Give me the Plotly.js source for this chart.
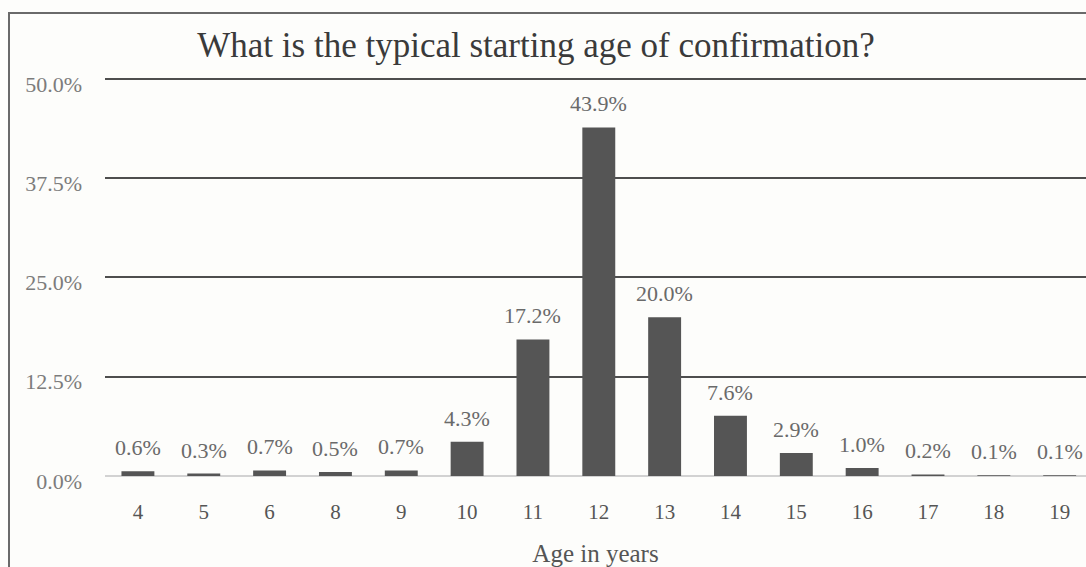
<!DOCTYPE html>
<html>
<head>
<meta charset="utf-8">
<script src="https://cdn.plot.ly/plotly-3.0.1.min.js"></script>
<style>
  html, body { margin: 0; padding: 0; background: #fdfdfb; overflow: hidden; }
  #wrap { position: relative; width: 1086px; height: 567px; }
  #chart { position: absolute; left: 0; top: 0; width: 1086px; height: 567px; }
  #frame { position: absolute; left: 8px; top: 12px; width: 1200px; height: 700px;
           border: 2px solid #6a6a6a; box-sizing: border-box; pointer-events: none; }
</style>
</head>
<body>
<div id="wrap">
  <div id="chart"></div>
  <div id="frame"></div>
</div>
<script>
const ages = ["4", "5", "6", "8", "9", "10", "11", "12", "13", "14", "15", "16", "17", "18", "19"];
const shares = [0.6, 0.3, 0.7, 0.5, 0.7, 4.3, 17.2, 43.9, 20.0, 7.6, 2.9, 1.0, 0.2, 0.1, 0.1];
const yTicks = [0, 12.5, 25, 37.5, 50];
const yTickLabels = ["0.0%", "12.5%", "25.0%", "37.5%", "50.0%"];
const chartTitle = "What is the typical starting age of confirmation?";
const xTitle = "Age in years";

const serif = "Liberation Serif, Times New Roman, serif";

const trace = {
  type: "bar",
  x: ages,
  y: shares,
  marker: { color: "#555555" },
  hoverinfo: "skip"
};

// category axis: annotation x is the category index
const annotations = ages.map((a, i) => ({
  x: i,
  y: shares[i],
  xref: "x",
  yref: "y",
  text: shares[i].toFixed(1) + "%",
  showarrow: false,
  yanchor: "bottom",
  yshift: 9,
  font: { family: serif, size: 22, color: "#6a6a6a" }
}));

const layout = {
  width: 1086,
  height: 567,
  margin: { l: 105, r: 0, t: 77, b: 91 },
  paper_bgcolor: "rgba(0,0,0,0)",
  plot_bgcolor: "rgba(0,0,0,0)",
  showlegend: false,
  bargap: 0.5,
  title: {
    text: chartTitle,
    x: 536 / 1086,
    xanchor: "center",
    xref: "container",
    y: 1 - 45 / 567,
    yanchor: "middle",
    yref: "container",
    font: { family: serif, size: 35, color: "#3a3a3a" }
  },
  xaxis: {
    type: "category",
    range: [-0.5, 14.4],
    showgrid: false,
    showline: false,
    zeroline: false,
    ticks: "",
    ticklabelstandoff: 21,
    tickfont: { family: serif, size: 21, color: "#555555" },
    title: {
      text: xTitle,
      standoff: 25,
      font: { family: serif, size: 25, color: "#555555" }
    }
  },
  yaxis: {
    range: [0, 50.25],
    tickmode: "array",
    tickvals: yTicks,
    ticktext: yTickLabels,
    showgrid: true,
    gridcolor: "#4e4e4e",
    gridwidth: 2,
    zeroline: true,
    zerolinecolor: "#d2d2d2",
    zerolinewidth: 2,
    showline: false,
    ticks: "",
    ticklabelstandoff: 22,
    ticklabelshift: 5,
    tickfont: { family: serif, size: 22, color: "#7c7c7c" }
  },
  annotations: annotations
};

Plotly.newPlot("chart", [trace], layout, { displayModeBar: false, staticPlot: true });
</script>
</body>
</html>
